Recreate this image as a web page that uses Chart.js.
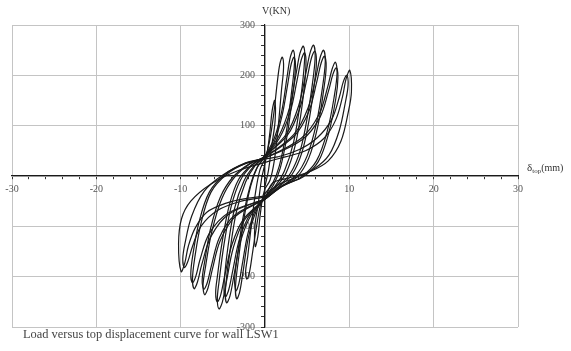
<!DOCTYPE html>
<html>
<head>
<meta charset="utf-8">
<script src="https://cdn.jsdelivr.net/npm/chart.js@4.4.1/dist/chart.umd.min.js"></script>
<style>
  html, body { margin: 0; padding: 0; background: #fff; }
  #wrap { width: 571px; height: 351px; position: relative; }
</style>
</head>
<body>
<div id="wrap"><canvas id="hysteresisChart"></canvas></div>
<script>
// labelled ticks (mm and kN)
const xTicks = [-30, -20, -10, 10, 20, 30];
const yTicks = [-300, -200, -100, 100, 200, 300];

// load cycles, each point is [top displacement mm, shear kN]
const cycle1 = [[0, -20], [0.4, 10], [0.8, 60], [1.2, 110], [1.15, 150], [0.85, 130], [0.6, 90], [0.3, 50], [0, 25],
  [-0.4, -5], [-0.8, -55], [-1.2, -100], [-1.15, -140], [-0.85, -120], [-0.6, -82], [-0.3, -45], [0, -25]];
const cycle2 = [[0, -25], [0.6, -8], [1.1, 30], [1.55, 95], [1.95, 170], [2.2, 215], [2.05, 236], [1.75, 222],
  [1.45, 185], [1.05, 125], [0.55, 70], [0, 35], [-0.6, 12], [-1.1, -30], [-1.6, -95], [-2.05, -160],
  [-2.3, -190], [-2.15, -205], [-1.85, -192], [-1.5, -155], [-1.05, -105], [-0.5, -55], [0, -35]];
const cycle3 = [[0, -35], [0.9, -15], [1.7, 20], [2.5, 85], [3.1, 160], [3.5, 225], [3.35, 250], [3.0, 236],
  [2.6, 195], [2.0, 130], [1.1, 75], [0, 40], [-0.9, 18], [-1.7, -20], [-2.5, -85], [-3.1, -160],
  [-3.5, -220], [-3.35, -244], [-3.0, -230], [-2.6, -190], [-2.0, -125], [-1.1, -72], [0, -42]];
const cycle3b = [[0, -42], [1.0, -18], [1.8, 15], [2.6, 78], [3.2, 150], [3.6, 212], [3.45, 236], [3.1, 222],
  [2.7, 183], [2.05, 122], [1.15, 70], [0, 38], [-1.0, 15], [-1.8, -22], [-2.6, -82], [-3.2, -150],
  [-3.6, -205], [-3.45, -228], [-3.1, -214], [-2.7, -176], [-2.05, -116], [-1.15, -68], [0, -42]];
const cycle4 = [[0, -42], [1.2, -20], [2.3, 10], [3.4, 68], [4.2, 150], [4.7, 232], [4.55, 258], [4.15, 244],
  [3.65, 200], [2.9, 135], [1.6, 78], [0, 40], [-1.2, 20], [-2.3, -12], [-3.4, -72], [-4.2, -155],
  [-4.7, -228], [-4.55, -252], [-4.15, -238], [-3.65, -195], [-2.9, -130], [-1.6, -76], [0, -44]];
const cycle4b = [[0, -44], [1.3, -22], [2.5, 6], [3.6, 62], [4.4, 140], [4.85, 218], [4.7, 245], [4.3, 231],
  [3.8, 190], [3.0, 128], [1.7, 75], [0, 40], [-1.3, 20], [-2.5, -10], [-3.6, -64], [-4.4, -142],
  [-4.85, -215], [-4.7, -240], [-4.3, -226], [-3.8, -186], [-3.0, -124], [-1.7, -74], [0, -45]];
const cycle5 = [[0, -45], [1.5, -22], [3.0, 5], [4.2, 52], [5.1, 125], [5.75, 200], [5.95, 240], [5.75, 260],
  [5.35, 245], [4.85, 205], [4.0, 140], [2.6, 85], [0, 40], [-1.5, 22], [-2.9, -8], [-4.0, -60],
  [-4.85, -135], [-5.45, -210], [-5.65, -245], [-5.45, -264], [-5.05, -250], [-4.55, -208],
  [-3.75, -142], [-2.45, -88], [0, -45]];
const cycle5b = [[0, -45], [1.6, -22], [3.2, 3], [4.4, 48], [5.3, 118], [5.9, 190], [6.1, 228], [5.9, 248],
  [5.5, 234], [5.0, 195], [4.1, 133], [2.7, 82], [0, 40], [-1.6, 22], [-3.1, -6], [-4.2, -56],
  [-5.05, -128], [-5.65, -200], [-5.85, -232], [-5.65, -250], [-5.25, -236], [-4.75, -196],
  [-3.9, -135], [-2.55, -86], [0, -46]];
const cycle6 = [[0, -46], [1.8, -22], [3.6, 0], [5.0, 40], [6.1, 105], [6.85, 180], [7.15, 228], [6.95, 250],
  [6.55, 236], [6.05, 198], [5.1, 135], [3.4, 82], [0, 38], [-1.8, 24], [-3.6, -2], [-5.1, -44],
  [-6.3, -110], [-7.05, -180], [-7.35, -218], [-7.15, -236], [-6.75, -222], [-6.25, -186],
  [-5.3, -128], [-3.5, -80], [0, -46]];
const cycle6b = [[0, -46], [1.9, -22], [3.8, -2], [5.2, 36], [6.25, 98], [6.95, 170], [7.25, 216], [7.05, 238],
  [6.65, 224], [6.15, 188], [5.2, 128], [3.5, 80], [0, 38], [-1.9, 24], [-3.8, -2], [-5.3, -42],
  [-6.45, -104], [-7.15, -170], [-7.45, -207], [-7.25, -225], [-6.85, -212], [-6.35, -178],
  [-5.4, -122], [-3.6, -78], [0, -46]];
const cycle7 = [[0, -46], [2.1, -20], [4.3, -2], [6.1, 30], [7.4, 90], [8.25, 162], [8.55, 206], [8.35, 226],
  [7.95, 212], [7.45, 178], [6.4, 122], [4.3, 75], [0, 36], [-2.2, 26], [-4.5, 4], [-6.4, -32],
  [-7.6, -95], [-8.35, -165], [-8.6, -205], [-8.4, -224], [-8.0, -210], [-7.5, -176], [-6.4, -120],
  [-4.3, -76], [0, -46]];
const cycle7b = [[0, -46], [2.2, -18], [4.5, -2], [6.3, 28], [7.55, 85], [8.4, 154], [8.65, 196], [8.45, 215],
  [8.05, 202], [7.55, 170], [6.5, 116], [4.4, 72], [0, 36], [-2.3, 26], [-4.7, 4], [-6.6, -32],
  [-7.8, -90], [-8.55, -156], [-8.8, -194], [-8.6, -212], [-8.2, -199], [-7.7, -166], [-6.6, -114],
  [-4.4, -74], [0, -46]];
const cycle8 = [[0, -46], [0.9, -14], [2.8, -4], [5.5, 10], [7.5, 30], [9.0, 69], [9.9, 129], [10.25, 168],
  [10.05, 210], [9.6, 192], [9.2, 158], [8.4, 112], [7.0, 75], [4.8, 50], [2.4, 38], [0.6, 30],
  [-3.3, 10], [-6.4, -16], [-8.8, -50], [-9.9, -85], [-10.25, -135], [-9.95, -190], [-9.5, -172],
  [-9.1, -140], [-8.3, -104], [-6.9, -72], [-4.6, -54], [-2.3, -45], [0, -40]];
const cycle8b = [[0, -40], [1.5, -18], [3.5, -4], [5.8, 14], [7.6, 42], [8.8, 90], [9.55, 148], [9.85, 180],
  [9.7, 200], [9.3, 188], [8.8, 156], [7.9, 112], [6.2, 76], [4.0, 52], [1.5, 38], [0, 34],
  [-2.4, 24], [-5.0, 2], [-7.2, -30], [-8.7, -80], [-9.5, -135], [-9.75, -165], [-9.55, -182],
  [-9.15, -170], [-8.6, -140], [-7.6, -100], [-5.6, -68], [-2.8, -50], [0, -42]];

const cycles = [cycle1, cycle2, cycle3, cycle3b, cycle4, cycle4b, cycle5, cycle5b,
  cycle6, cycle6b, cycle7, cycle7b, cycle8, cycle8b];

const serif = '"Liberation Serif", "DejaVu Serif", serif';
const inkColor = '#1a1a1a';
const gridColor = '#c4c4c4';

// axis titles and caption
const axisText = {
  id: 'axisText',
  afterDraw(chart) {
    const { ctx } = chart;
    const x = chart.scales.x;
    const y = chart.scales.y;
    const x0 = x.getPixelForValue(0);
    const y0 = y.getPixelForValue(0);
    ctx.save();
    ctx.fillStyle = '#333';
    ctx.textBaseline = 'middle';
    ctx.textAlign = 'left';

    ctx.font = '10px ' + serif;
    ctx.fillText('V(KN)', x0 - 3, y.getPixelForValue(300) - 14);

    let tx = x.getPixelForValue(30) + 9;
    const ty = y0 - 8;
    ctx.font = '11px ' + serif;
    ctx.fillText('δ', tx, ty);
    tx += ctx.measureText('δ').width;
    ctx.font = '7px ' + serif;
    ctx.fillText('top', tx, ty + 3);
    tx += ctx.measureText('top').width;
    ctx.font = '10px ' + serif;
    ctx.fillText('(mm)', tx, ty);

    ctx.fillStyle = '#444';
    ctx.font = '12.4px ' + serif;
    ctx.fillText('Load versus top displacement curve for wall LSW1', 23, 335);
    ctx.restore();
  }
};

new Chart(document.getElementById('hysteresisChart'), {
  type: 'scatter',
  data: {
    datasets: cycles.map((c, i) => ({
      label: 'cycle ' + (i + 1),
      data: c.map(p => ({ x: p[0], y: p[1] })),
      showLine: true,
      borderColor: inkColor,
      borderWidth: 1.2,
      tension: 0.35,
      pointRadius: 0,
      fill: false
    }))
  },
  options: {
    responsive: true,
    maintainAspectRatio: false,
    animation: false,
    layout: { padding: { left: 12, right: 53, top: 25, bottom: 24 } },
    plugins: {
      legend: { display: false },
      tooltip: { enabled: false }
    },
    scales: {
      x: {
        type: 'linear',
        position: { y: 0 },
        min: -30,
        max: 30,
        afterFit: (scale) => { scale.height = 0; },
        ticks: {
          stepSize: 2,
          autoSkip: false,
          maxRotation: 0,
          padding: 4,
          color: '#555',
          font: { family: serif, size: 10 },
          callback: (v) => xTicks.includes(v) ? String(v) : ''
        },
        grid: {
          color: (c) => c.tick && c.tick.value % 10 === 0 ? gridColor : 'rgba(0,0,0,0)',
          tickColor: '#333',
          tickLength: 3,
          lineWidth: 1
        },
        border: { display: true, color: inkColor, width: 1.2 }
      },
      y: {
        type: 'linear',
        position: { x: 0 },
        min: -300,
        max: 300,
        afterFit: (scale) => { scale.width = 0; },
        ticks: {
          stepSize: 20,
          autoSkip: false,
          color: '#555',
          font: { family: serif, size: 10 },
          // trailing spaces keep the right-aligned labels off the axis line
          callback: (v) => yTicks.includes(v) ? String(v) + '    ' : ''
        },
        grid: {
          color: (c) => c.tick && c.tick.value % 100 === 0 ? gridColor : 'rgba(0,0,0,0)',
          tickColor: '#333',
          tickLength: 3,
          lineWidth: 1
        },
        border: { display: true, color: inkColor, width: 1.2 }
      }
    }
  },
  plugins: [axisText]
});
</script>
</body>
</html>
